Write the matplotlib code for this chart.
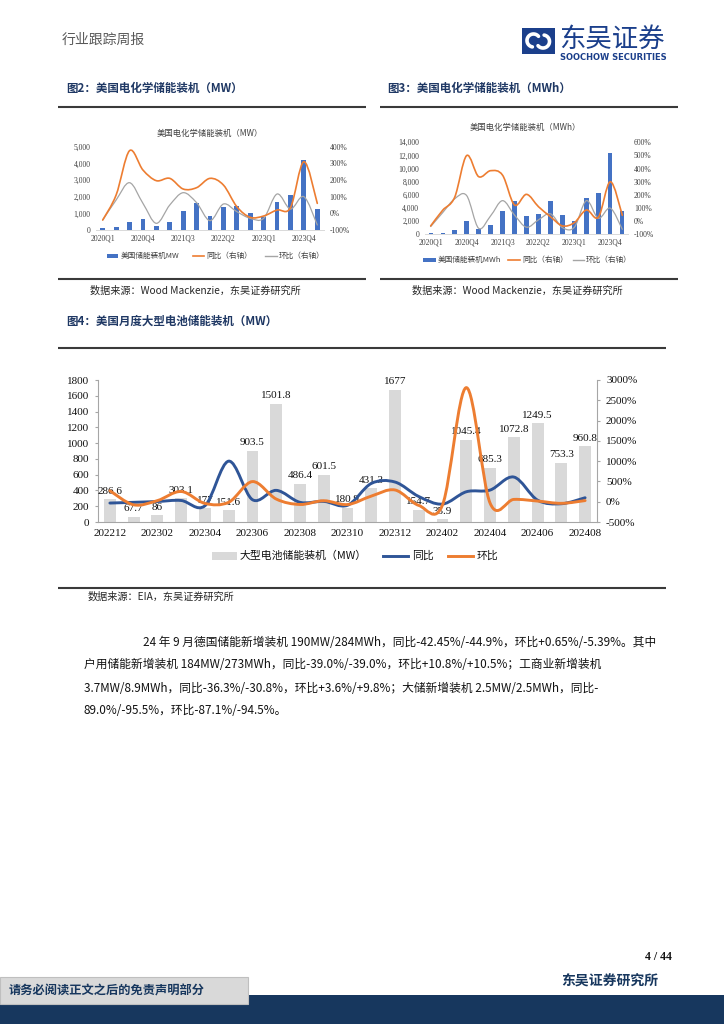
import numpy as np
import matplotlib
matplotlib.use('Agg')
import matplotlib.pyplot as plt
from matplotlib.path import Path
from matplotlib.patches import PathPatch, Rectangle
from matplotlib.ticker import FuncFormatter

# ---------------- data ----------------
quarters = ['2020Q1', '2020Q2', '2020Q3', '2020Q4', '2021Q1', '2021Q2', '2021Q3', '2021Q4',
            '2022Q1', '2022Q2', '2022Q3', '2022Q4', '2023Q1', '2023Q2', '2023Q3', '2023Q4', '2024Q1']
us_mw = [100, 160, 460, 640, 260, 500, 1140, 1600, 840, 1380, 1440, 1000, 800, 1680, 2100, 4200, 1260]
us_mw_yoy = [-40, 110, 376, 260, 196, 210, 146, 154, 210, 170, 40, -24, -16, 20, 34, 310, 60]
us_mw_qoq = [-40, 80, 184, 60, -60, 50, 124, 64, -44, 56, 10, -30, -30, 116, 26, 100, -70]

us_mwh = [200, 250, 660, 2030, 810, 1370, 3600, 5120, 2790, 3090, 5070, 2990, 2080, 5580, 6240, 12430, 3550]
us_mwh_yoy = [-36, 83, 181, 499, 339, 384, 350, 123, 204, 110, 34, -36, -11, 85, 30, 300, 45]
us_mwh_qoq = [-41, 65, 170, 195, -54, 40, 156, 46, -46, 10, 56, -49, -46, 156, 22, 99, -62]

months = ['202212', '202301', '202302', '202303', '202304', '202305', '202306', '202307',
          '202308', '202309', '202310', '202311', '202312', '202401', '202402', '202403',
          '202404', '202405', '202406', '202407', '202408']
large_mw = [286.6, 67.7, 86, 303.1, 177, 151.6, 903.5, 1501.8, 486.4, 601.5, 180.9, 431.3,
            1677, 154.7, 35.9, 1045.4, 685.3, 1072.8, 1249.5, 753.3, 960.8]
large_yoy = [-33, -15, 5, 30, -100, 1000, 50, 280, -15, 8, -88, 450, 485, 128, -58, 245,
             287, 608, 38, -50, 98]
large_mom = [270, -76, 27, 252, -42, -14, 496, 66, -68, 24, -70, 138, 289, -91, -77, 2812,
             -34, 57, 16, -40, 28]

# ---------------- helpers ----------------
W, H = 724, 1024
CJK = ['Noto Sans CJK SC', 'DejaVu Sans']
SERIF = ['Liberation Serif', 'Noto Sans CJK SC', 'DejaVu Sans']
plt.rcParams['font.family'] = SERIF
plt.rcParams['axes.unicode_minus'] = False

BLUE = '#4472C4'
ORANGE = '#ED7D31'
GRAY = '#A5A5A5'
NAVY = '#1F3864'
DARKBLUE = '#2F5597'


def rect(x0, y0, x1, y1):
    return [x0 / W, 1 - y1 / H, (x1 - x0) / W, (y1 - y0) / H]


def smooth_path(ys):
    xs = np.arange(len(ys), dtype=float)
    pts = np.column_stack([xs, np.asarray(ys, dtype=float)])
    n = len(pts)
    verts = [pts[0]]
    codes = [Path.MOVETO]
    for i in range(n - 1):
        p0 = pts[i - 1] if i > 0 else pts[i]
        p1 = pts[i]
        p2 = pts[i + 1]
        p3 = pts[i + 2] if i + 2 < n else pts[i + 1]
        c1 = p1 + (p2 - p0) / 6.0
        c2 = p2 - (p3 - p1) / 6.0
        verts += [c1, c2, p2]
        codes += [Path.CURVE4] * 3
    return Path(verts, codes)


def add_smooth(ax, ys, color, lw):
    ax.add_patch(PathPatch(smooth_path(ys), facecolor='none', edgecolor=color, lw=lw,
                           capstyle='round', joinstyle='round', transform=ax.transData,
                           zorder=3))


fig = plt.figure(figsize=(W / 100, H / 100), dpi=100)
fig.patch.set_facecolor('white')

# background / page axes in pixel coordinates
bg = fig.add_axes([0, 0, 1, 1])
bg.set_xlim(0, W)
bg.set_ylim(H, 0)
bg.axis('off')

# header
bg.text(62, 40, '行业跟踪周报', fontsize=10, color='#595959', family=CJK, va='center', ha='left')
bg.add_patch(Rectangle((521.5, 28), 33.5, 26, facecolor='#1B3F8B', edgecolor='none'))
a1 = np.deg2rad(np.linspace(40, 260, 60))
bg.plot(533.5 + 6.5 * np.cos(a1), 40.5 - 6.5 * np.sin(a1), color='white', lw=2.6, solid_capstyle='round')
a2 = np.deg2rad(np.linspace(220, 440, 60))
bg.plot(543 + 6.5 * np.cos(a2), 41.5 - 6.5 * np.sin(a2), color='white', lw=2.6, solid_capstyle='round')
bg.text(559, 39, '东吴证券', fontsize=19, color='#1B3F8B', family=CJK, va='center', ha='left')
bg.text(560, 57.5, 'SOOCHOW SECURITIES', fontsize=6, color='#1B3F8B', family=['DejaVu Sans'],
        fontweight='bold', va='center', ha='left')

# figure titles
bg.text(66, 88, '图2：美国电化学储能装机（MW）', fontsize=8.3, color=NAVY, family=CJK,
        fontweight='bold', va='center', ha='left')
bg.text(387, 88, '图3：美国电化学储能装机（MWh）', fontsize=8.3, color=NAVY, family=CJK,
        fontweight='bold', va='center', ha='left')
bg.text(66, 321, '图4：美国月度大型电池储能装机（MW）', fontsize=8.3, color=NAVY, family=CJK,
        fontweight='bold', va='center', ha='left')

LINEC = '#3A3A3A'
for (x0, x1, y) in [(58, 366, 107), (380, 678, 107), (58, 366, 279), (380, 678, 279),
                    (58, 666, 348), (58, 666, 587.5)]:
    bg.plot([x0, x1], [y, y], color=LINEC, lw=1.5, solid_capstyle='butt')

bg.text(90, 291, '数据来源：Wood Mackenzie，东吴证券研究所', fontsize=7.3, color='#262626',
        family=CJK, va='center', ha='left')
bg.text(412, 291, '数据来源：Wood Mackenzie，东吴证券研究所', fontsize=7.3, color='#262626',
        family=CJK, va='center', ha='left')
bg.text(88, 597, '数据来源：EIA，东吴证券研究所', fontsize=7.3, color='#262626',
        family=CJK, va='center', ha='left')

para = [
    (143, 642, '24 年 9 月德国储能新增装机 190MW/284MWh，同比-42.45%/-44.9%，环比+0.65%/-5.39%。其中'),
    (84, 665, '户用储能新增装机 184MW/273MWh，同比-39.0%/-39.0%，环比+10.8%/+10.5%；工商业新增装机'),
    (84, 688, '3.7MW/8.9MWh，同比-36.3%/-30.8%，环比+3.6%/+9.8%；大储新增装机 2.5MW/2.5MWh，同比-'),
    (84, 711, '89.0%/-95.5%，环比-87.1%/-94.5%。'),
]
for x, y, s in para:
    bg.text(x, y, s, fontsize=8.45, color='#111111', family=CJK, va='center', ha='left')

# footer
bg.text(672, 957, '4 / 44', fontsize=8.5, color='#111111', family=['Liberation Serif'],
        fontweight='bold', va='center', ha='right')
bg.text(561, 982, '东吴证券研究所', fontsize=10, color='#17375E', family=CJK,
        fontweight='bold', va='center', ha='left')
bg.add_patch(Rectangle((0, 995), W, 29, facecolor='#17375E', edgecolor='none', zorder=1))
bg.add_patch(Rectangle((0, 977), 248, 27, facecolor='#D9D9D9', edgecolor='#BFBFBF', lw=0.8, zorder=2))
bg.text(9, 991, '请务必阅读正文之后的免责声明部分', fontsize=8.8, color='#17375E', family=CJK,
        fontweight='bold', va='center', ha='left', zorder=3)


# ---------------- small quarterly charts ----------------
def small_chart(box, bars, yoy, qoq, ymax, ystep, rmin, rmax, title, title_xy, legend_spec, bar_label):
    ax = fig.add_axes(rect(*box))
    ax.patch.set_visible(False)
    x = np.arange(len(quarters))
    ax.bar(x, bars, width=0.36, color=BLUE, zorder=2)
    ax.set_xlim(-0.5, len(quarters) - 0.5)
    ax.set_ylim(0, ymax)
    ax.set_yticks(np.arange(0, ymax + 1, ystep))
    ax.yaxis.set_major_formatter(FuncFormatter(lambda v, p: f'{v:,.0f}'))
    ax.set_xticks(x[::3])
    ax.set_xticklabels([quarters[i] for i in x[::3]])
    for s in ['top', 'left', 'right']:
        ax.spines[s].set_visible(False)
    ax.spines['bottom'].set_color('#D9D9D9')
    ax.spines['bottom'].set_linewidth(0.7)
    ax.tick_params(axis='both', length=0, labelsize=5.5, colors='#404040')
    ax.tick_params(axis='y', pad=4)
    ax.tick_params(axis='x', pad=3)
    ax2 = ax.twinx()
    ax2.patch.set_visible(False)
    ax2.set_ylim(rmin, rmax)
    ax2.set_yticks(np.arange(rmin, rmax + 1, 100))
    ax2.yaxis.set_major_formatter(FuncFormatter(lambda v, p: f'{v:.0f}%'))
    for s in ax2.spines.values():
        s.set_visible(False)
    ax2.tick_params(axis='y', length=0, labelsize=5.5, colors='#404040', pad=4)
    add_smooth(ax2, qoq, GRAY, 0.9)
    add_smooth(ax2, yoy, ORANGE, 1.2)
    bg.text(title_xy[0], title_xy[1], title, fontsize=6, color='#404040', family=CJK,
            va='center', ha='center')
    ly, (bx0, bx1, btx), (ox0, ox1, otx), (gx0, gx1, gtx) = legend_spec
    bg.add_patch(Rectangle((bx0, ly - 2.2), bx1 - bx0, 4.4, facecolor=BLUE, edgecolor='none'))
    bg.text(btx, ly, bar_label, fontsize=5.5, color='#404040', family=CJK, va='center', ha='left')
    bg.plot([ox0, ox1], [ly, ly], color=ORANGE, lw=1.2)
    bg.text(otx, ly, '同比（右轴）', fontsize=5.5, color='#404040', family=CJK, va='center', ha='left')
    bg.plot([gx0, gx1], [ly, ly], color=GRAY, lw=1.0)
    bg.text(gtx, ly, '环比（右轴）', fontsize=5.5, color='#404040', family=CJK, va='center', ha='left')
    return ax


small_chart((96, 146.7, 324, 230), us_mw, us_mw_yoy, us_mw_qoq, 5000, 1000, -100, 400,
            '美国电化学储能装机（MW）', (210, 133),
            (255.7, (106.7, 118.3, 120.5), (192.7, 204, 206), (265, 276.7, 278.5)),
            '美国储能装机MW')
small_chart((424.7, 142.3, 628.3, 234.3), us_mwh, us_mwh_yoy, us_mwh_qoq, 14000, 2000, -100, 600,
            '美国电化学储能装机（MWh）', (525, 127),
            (260, (423, 436, 437.5), (508, 520, 522), (573, 584, 586)),
            '美国储能装机MWh')

# ---------------- monthly large battery chart ----------------
ax = fig.add_axes(rect(98, 380, 597, 522))
ax.patch.set_visible(False)
xm = np.arange(len(months))
ax.bar(xm, large_mw, width=0.5, color='#D9D9D9', zorder=1)
ax.set_xlim(-0.5, len(months) - 0.5)
ax.set_ylim(0, 1800)
ax.set_yticks(np.arange(0, 1801, 200))
ax.set_xticks(xm[::2])
ax.set_xticklabels([months[i] for i in xm[::2]])
ax.spines['top'].set_visible(False)
ax.spines['right'].set_visible(False)
for s in ['left', 'bottom']:
    ax.spines[s].set_color('#A6A6A6')
    ax.spines[s].set_linewidth(0.8)
ax.tick_params(axis='y', length=2.5, color='#A6A6A6', labelsize=8, pad=4, labelcolor='#111111')
ax.tick_params(axis='x', length=0, labelsize=8, pad=5, labelcolor='#111111')
for xi, v in zip(xm, large_mw):
    ax.annotate(f'{v:g}', (xi, v), xytext=(0, 2.5), textcoords='offset points',
                ha='center', va='bottom', fontsize=8, color='#111111', zorder=5)

ax2 = ax.twinx()
ax2.patch.set_visible(False)
ax2.set_ylim(-500, 3000)
ax2.set_yticks(np.arange(-500, 3001, 500))
ax2.yaxis.set_major_formatter(FuncFormatter(lambda v, p: f'{v:.0f}%'))
for s in ['top', 'left', 'bottom']:
    ax2.spines[s].set_visible(False)
ax2.spines['right'].set_color('#A6A6A6')
ax2.spines['right'].set_linewidth(0.8)
ax2.tick_params(axis='y', length=2.5, color='#A6A6A6', labelsize=8, pad=4, labelcolor='#111111')
add_smooth(ax2, large_yoy, DARKBLUE, 2.1)
add_smooth(ax2, large_mom, ORANGE, 2.1)

# legend for monthly chart
ly = 556
bg.add_patch(Rectangle((211.7, ly - 3.8), 25, 7.6, facecolor='#D9D9D9', edgecolor='none'))
bg.text(240, ly, '大型电池储能装机（MW）', fontsize=7.8, color='#111111', family=CJK, va='center', ha='left')
bg.plot([383, 408], [ly, ly], color=DARKBLUE, lw=2.1)
bg.text(412, ly, '同比', fontsize=7.8, color='#111111', family=CJK, va='center', ha='left')
bg.plot([448, 473], [ly, ly], color=ORANGE, lw=2.1)
bg.text(477, ly, '环比', fontsize=7.8, color='#111111', family=CJK, va='center', ha='left')

fig.savefig('out.png', dpi=100, facecolor='white')
